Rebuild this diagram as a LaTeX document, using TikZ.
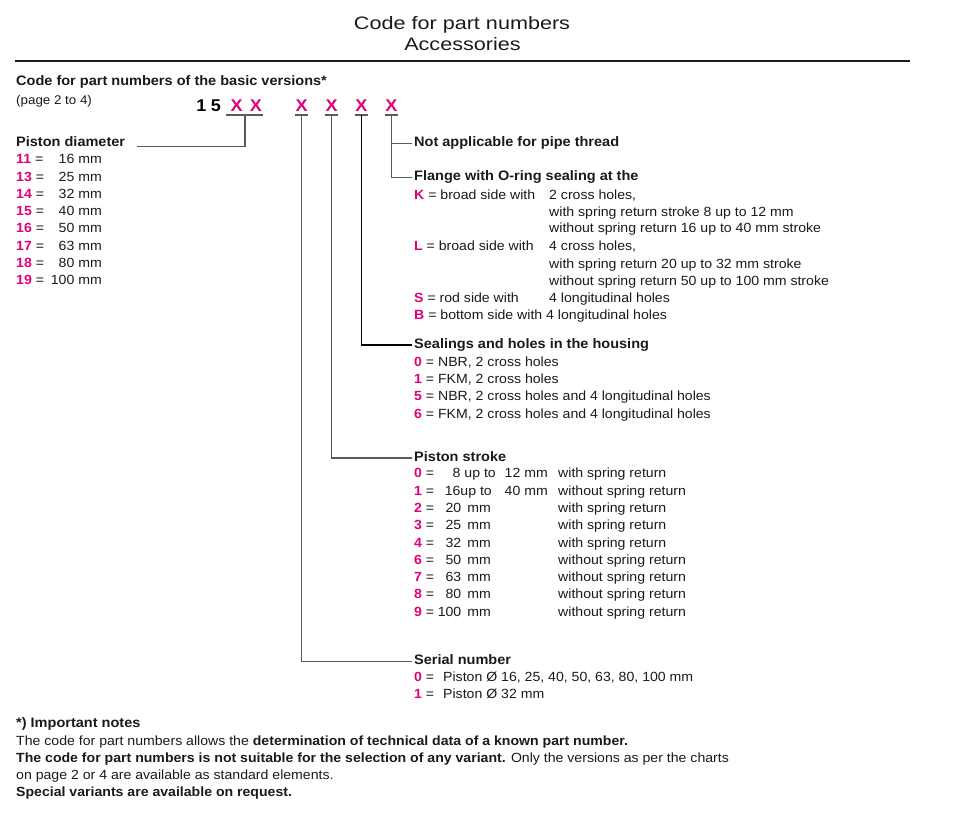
\documentclass[tikz,border=0pt]{standalone}
\usepackage{fontspec}
\setmainfont{Liberation Sans}[FakeStretch=1.06]
\newfontfamily\titlefont{Liberation Sans}[FakeStretch=1.2]
\usetikzlibrary{calc}
\definecolor{codepink}{HTML}{E2007A}
\definecolor{ink}{HTML}{1A1A1A}
\definecolor{leader}{HTML}{5A5A5A}
\newcommand{\cd}[1]{\textcolor{codepink}{\textbf{#1}}}
\tikzset{
  txt/.style={anchor=west, inner sep=2pt, text=ink, text height=9.5pt, text depth=2.5pt,
              font=\fontsize{13.3}{15}\selectfont},
  head/.style={txt, font=\fontsize{13.7}{15}\selectfont\bfseries},
  title/.style={inner sep=0pt, text=ink, text height=12.9pt, text depth=0pt,
                font=\titlefont\fontsize{18}{20}\selectfont},
  digit/.style={inner xsep=0pt, inner ysep=3.2pt, text height=12.2pt, text depth=0pt,
                font=\fontsize{17}{18}\selectfont\bfseries},
  conn/.style={draw=leader, line width=1.5pt},
  uline/.style={draw=leader, line width=2.2pt},
}
\begin{document}
\begin{tikzpicture}[x=1pt, y=-1pt]
    \useasboundingbox (0,0) rectangle (957,818);

    \node[title] (t1) at (462,22.8) {Code for part numbers};
    \node[title] (t2) at (462.5,44) {Accessories};
    \coordinate (r0) at (15,61);
    \coordinate (r1) at (910,61);
    \draw[draw=ink, line width=1.3pt] (r0) -- (r1);

    \node[head] (hdr) at (14,82) {Code for part numbers of the basic versions*};
    \node[txt, font=\fontsize{12.6}{14}\selectfont] (page) at (14,101) {(page 2 to 4)};

    \node[digit] (c1) at (201.5,105.7) {1};
    \node[digit] (c5) at (216,105.7) {5};
    \node[digit, text=codepink] (x1) at (236.7,105.7) {X};
    \node[digit, text=codepink] (x2) at (256,105.7) {X};
    \node[digit, text=codepink] (x3) at (301.7,105.7) {X};
    \node[digit, text=codepink] (x4) at (331.7,105.7) {X};
    \node[digit, text=codepink] (x5) at (361.5,105.7) {X};
    \node[digit, text=codepink] (x6) at (391.5,105.7) {X};

    \coordinate (ul) at ([xshift=-4pt]x1.south west);
    \coordinate (ur) at ([xshift=1pt]x2.south east);
    \draw[uline] (ul) -- (ur);
    \foreach \n in {x3,x4,x5,x6}
        \draw[uline] (\n.south west) -- (\n.south east);

    % piston diameter
    \node[head] (pd) at (14,143.3) {Piston diameter};
    \foreach \c/\v [count=\i] in {11/16,13/25,14/32,15/40,16/50,17/63,18/80,19/100} {
        \node[txt] (dc\i) at (14,143.3+17.2*\i) {\cd{\c} =};
        \node[txt, anchor=east] (dv\i) at (104,143.3+17.2*\i) {\v~mm};
    }

    % flange
    \node[head] (notappl) at (412,143.3) {Not applicable for pipe thread};
    \node[head] (flange) at (412,177.3) {Flange with O-ring sealing at the};
    \node[txt] (fk) at (412,196) {\cd{K} = broad side with};
    \node[txt] (fk1) at (547,196) {2 cross holes,};
    \node[txt] (fk2) at (547,212.7) {with spring return stroke 8 up to 12 mm};
    \node[txt] (fk3) at (547,229.5) {without spring return 16 up to 40 mm stroke};
    \node[txt] (fl) at (412,247.3) {\cd{L} = broad side with};
    \node[txt] (fl1) at (547,247.3) {4 cross holes,};
    \node[txt] (fl2) at (547,264.7) {with spring return 20 up to 32 mm stroke};
    \node[txt] (fl3) at (547,282) {without spring return 50 up to 100 mm stroke};
    \node[txt] (fs) at (412,299.3) {\cd{S} = rod side with};
    \node[txt] (fs1) at (547,299.3) {4 longitudinal holes};
    \node[txt] (fb) at (412,316.3) {\cd{B} = bottom side with 4 longitudinal holes};

    % sealings
    \node[head] (seal) at (412,345) {Sealings and holes in the housing};
    \foreach \c/\t [count=\i] in {0/{NBR, 2 cross holes},1/{FKM, 2 cross holes},
            5/{NBR, 2 cross holes and 4 longitudinal holes},6/{FKM, 2 cross holes and 4 longitudinal holes}}
        \node[txt] (sh\i) at (412,345.4+17.3*\i) {\cd{\c} = \t};

    % piston stroke
    \node[head] (stroke) at (412,458) {Piston stroke};
    \node[txt] (k0) at (412,474.3) {\cd{0} =};
    \node[txt, anchor=east] (k0a) at (498,474.3) {8 up to};
    \node[txt, anchor=east] (k0b) at (550,474.3) {12 mm};
    \node[txt] (k0r) at (556,474.3) {with spring return};
    \node[txt] (k1) at (412,491.6) {\cd{1} =};
    \node[txt, anchor=east] (k1a) at (494,491.6) {16up to};
    \node[txt, anchor=east] (k1b) at (550,491.6) {40 mm};
    \node[txt] (k1r) at (556,491.6) {without spring return};
    \foreach \c/\v/\r [count=\i] in {2/20/with,3/25/with,4/32/with,6/50/without,
            7/63/without,8/80/without,9/100/without} {
        \node[txt] (k\c) at (412,491.6+17.3*\i) {\cd{\c} =};
        \node[txt, anchor=east] (k\c a) at (493,491.6+17.3*\i) {\v\hspace{0.45em}mm};
        \node[txt] (k\c r) at (556,491.6+17.3*\i) {\r\ spring return};
    }

    % serial number
    \node[head] (serial) at (412,661.3) {Serial number};
    \node[txt] (s0) at (412,677.7) {\cd{0} =};
    \node[txt] (s0t) at (441,677.7) {Piston Ø 16, 25, 40, 50, 63, 80, 100 mm};
    \node[txt] (s1) at (412,695.2) {\cd{1} =};
    \node[txt] (s1t) at (441,695.2) {Piston Ø 32 mm};

    \draw[conn] ($(ul)!.5!(ur)$) |- ([xshift=10pt,yshift=-3.4pt]pd.east);
    \draw[conn] (x6.south) |- (notappl.west);
    \draw[conn] (x6.south) |- (flange.west);
    \draw[conn, draw=black] (x5.south) |- (seal.west);
    \draw[conn] (x4.south) |- (stroke.west);
    \draw[conn] (x3.south) |- (serial.west);

    % notes
    \node[head] (n0) at (14,724.3) {*) Important notes};
    \node[txt] (n1) at (14,741.5) {The code for part numbers allows the \textbf{determination of technical data of a known part number.}};
    \node[txt] (n2) at (14,758.7) {\textbf{The code for part numbers is not suitable for the selection of any variant.} Only the versions as per the charts};
    \node[txt] (n3) at (14,775.9) {on page 2 or 4 are available as standard elements.};
    \node[txt] (n4) at (14,793.1) {\textbf{Special variants are available on request.}};
\end{tikzpicture}
\end{document}
